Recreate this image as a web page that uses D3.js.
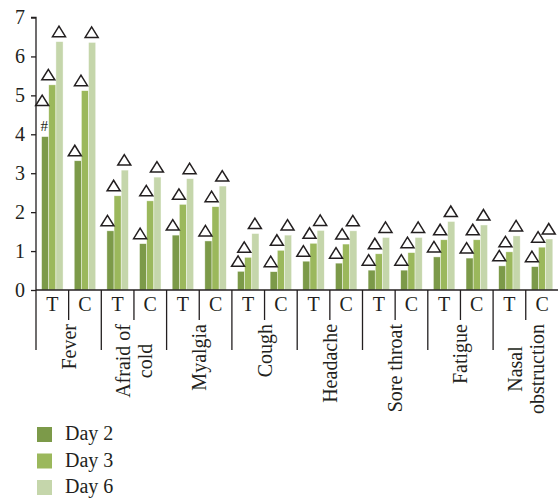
<!DOCTYPE html>
<html>
<head>
<meta charset="utf-8">
<script src="https://cdn.jsdelivr.net/npm/d3@7"></script>
<style>
  body { margin: 0; background: #fff; }
  text { font-family: "Liberation Serif", "DejaVu Serif", serif; fill: #231f20; }
</style>
</head>
<body>
<svg id="chart" width="558" height="498"></svg>
<script>
const symptoms = ["Fever", "Afraid of\ncold", "Myalgia", "Cough", "Headache", "Sore throat", "Fatigue", "Nasal\nobstruction"];
const groups = ["T", "C"];
const series = ["Day 2", "Day 3", "Day 6"];
// one value per symptom/group pair, in order Fever T, Fever C, Afraid T, ...
const day2 = [3.94, 3.32, 1.52, 1.19, 1.41, 1.26, 0.48, 0.47, 0.74, 0.69, 0.51, 0.51, 0.85, 0.82, 0.62, 0.60];
const day3 = [5.27, 5.12, 2.42, 2.29, 2.20, 2.14, 0.84, 1.02, 1.20, 1.18, 0.93, 0.96, 1.29, 1.29, 0.98, 1.10];
const day6 = [6.38, 6.36, 3.08, 2.90, 2.86, 2.67, 1.45, 1.41, 1.53, 1.52, 1.35, 1.35, 1.76, 1.67, 1.39, 1.31];
const yTicks = [0, 1, 2, 3, 4, 5, 6, 7];
// bars that carry a "#" under the triangle: [pair index, series index]
const hashMarks = [[0, 0]];

const colors = ["#7c9a49", "#9bb85c", "#c5d6ab"];
const values = [day2, day3, day6];

const svg = d3.select("#chart");
const plotLeft = 36, plotBottom = 290, plotTop = 17.5;
const pairStep = 32.65;

const pairs = [];
symptoms.forEach((s, i) => groups.forEach((g, j) => pairs.push({ key: i + "-" + g, symptom: i, group: g, idx: i * 2 + j })));

const x0 = d3.scaleBand()
  .domain(pairs.map(d => d.key))
  .range([plotLeft, plotLeft + pairStep * pairs.length]);

const x1 = d3.scaleBand()
  .domain(series)
  .range([0, x0.bandwidth()])
  .paddingOuter(0.78);

const y = d3.scaleLinear().domain([0, 7]).range([plotBottom, plotTop]);

// bars
const bars = [];
pairs.forEach(p => series.forEach((s, k) => bars.push({ pair: p, k: k, s: s, v: values[k][p.idx] })));

svg.append("g").selectAll("rect")
  .data(bars)
  .enter().append("rect")
  .attr("x", d => x0(d.pair.key) + x1(d.s))
  .attr("y", d => y(d.v))
  .attr("width", x1.bandwidth())
  .attr("height", d => y(0) - y(d.v))
  .attr("fill", d => colors[d.k])
  .attr("stroke", "rgba(255,255,255,0.7)")
  .attr("stroke-width", 0.6);

// triangle markers
const triW = 13, triH = 10.5, gap = 5;
const triShift = [-3, -4, -0.5];
const isHash = d => hashMarks.some(h => h[0] === d.pair.idx && h[1] === d.k);

const marks = svg.append("g");
marks.selectAll("path")
  .data(bars)
  .enter().append("path")
  .attr("d", d => {
    const cx = x0(d.pair.key) + x1(d.s) + x1.bandwidth() / 2 + triShift[d.k];
    const by = y(d.v) - gap - (isHash(d) ? 26 : 0);
    return `M${cx - triW / 2},${by} L${cx + triW / 2},${by} L${cx},${by - triH} Z`;
  })
  .attr("fill", "none")
  .attr("stroke", "#231f20")
  .attr("stroke-width", 1.5)
  .attr("stroke-linejoin", "miter");

marks.selectAll("text")
  .data(bars.filter(isHash))
  .enter().append("text")
  .attr("x", d => x0(d.pair.key) + x1(d.s) + x1.bandwidth() / 2 - 1)
  .attr("y", d => y(d.v) - 6)
  .attr("text-anchor", "middle")
  .style("font-size", "15px")
  .text("#");

// y axis
const yAxis = svg.append("g")
  .attr("transform", `translate(${plotLeft},0)`)
  .call(d3.axisLeft(y).tickValues(yTicks).tickSize(5).tickFormat(d3.format("d")));
yAxis.select(".domain").attr("stroke", "#231f20").attr("stroke-width", 1.3).attr("d", `M-5,${plotTop}H0V${plotBottom}`);
yAxis.selectAll(".tick line").attr("stroke", "#231f20").attr("stroke-width", 1.3);
yAxis.selectAll(".tick text").attr("x", -11).style("font-size", "20px").style("font-family", "Liberation Serif").attr("fill", "#231f20");

// x axis
const xAxis = svg.append("g").attr("transform", `translate(0,${plotBottom})`);
xAxis.append("line")
  .attr("x1", plotLeft).attr("x2", 558)
  .attr("stroke", "#231f20").attr("stroke-width", 1.3);

// separators: long between symptoms, short between T and C
xAxis.selectAll("line.sep")
  .data(pairs)
  .enter().append("line")
  .attr("class", "sep")
  .attr("x1", d => x0(d.key)).attr("x2", d => x0(d.key))
  .attr("y1", 0)
  .attr("y2", d => d.group === "T" ? 60 : 30)
  .attr("stroke", "#231f20").attr("stroke-width", 1.3);

xAxis.selectAll("text.grp")
  .data(pairs)
  .enter().append("text")
  .attr("class", "grp")
  .attr("x", d => x0(d.key) + x0.bandwidth() / 2)
  .attr("y", 21)
  .attr("text-anchor", "middle")
  .style("font-size", "20px")
  .text(d => d.group);

// symptom labels, rotated, lines centred in a block that starts below the short ticks
const labelTop = 34, lineGap = 22;
symptoms.forEach((s, i) => {
  const lines = s.split("\n");
  const cx = x0(i + "-C");
  const g = xAxis.append("g");
  const t = g.selectAll("text")
    .data(lines)
    .enter().append("text")
    .attr("text-anchor", "middle")
    .attr("dominant-baseline", "central")
    .style("font-size", "20px")
    .text(d => d);
  const maxLen = d3.max(t.nodes(), n => n.getComputedTextLength());
  t.attr("transform", (d, j) => {
    const xx = cx + (j - (lines.length - 1) / 2) * lineGap;
    return `translate(${xx},${labelTop + maxLen / 2}) rotate(-90)`;
  });
});

// legend
const legend = svg.append("g").attr("transform", "translate(37,427)");
const item = legend.selectAll("g")
  .data(series)
  .enter().append("g")
  .attr("transform", (d, i) => `translate(0,${i * 26.5})`);
item.append("rect")
  .attr("width", 15).attr("height", 15)
  .attr("fill", (d, i) => colors[i]);
item.append("text")
  .attr("x", 28).attr("y", 13)
  .style("font-size", "20px")
  .text(d => d);
</script>
</body>
</html>
